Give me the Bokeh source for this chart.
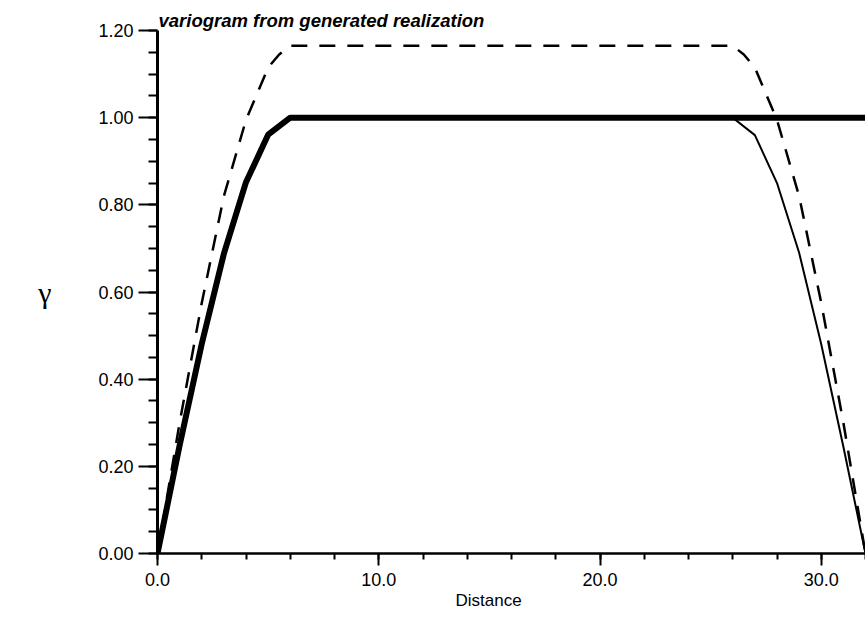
from bokeh.plotting import figure
from bokeh.models import (Range1d, SingleIntervalTicker, NumeralTickFormatter, Title)
from bokeh.embed import file_html
from bokeh.resources import INLINE

# --- data ---
model_x = [0, 1, 2, 3, 4, 5, 6, 32]
model_y = [0.0, 0.248, 0.481, 0.688, 0.852, 0.961, 1.0, 1.0]

real_x = [0, 1, 2, 3, 4, 5, 6, 26, 27, 28, 29, 30, 31, 32]
real_y = [0.0, 0.25, 0.48, 0.69, 0.85, 0.96, 1.0, 1.0, 0.96, 0.85, 0.69, 0.48, 0.245, 0.0]

dash_x = [0, 1, 2, 3, 4, 5, 5.5, 6, 26, 26.5, 27, 28, 29, 30, 31, 32]
dash_y = [0.0, 0.30, 0.575, 0.82, 0.995, 1.115, 1.145, 1.165, 1.165, 1.145, 1.115, 0.995, 0.82, 0.575, 0.30, 0.0]

title_text = "variogram from generated realization"
x_title = "Distance"
y_title = "γ"

p = figure(width=865, height=637, output_backend="svg", toolbar_location=None,
           x_range=Range1d(0, 32), y_range=Range1d(0, 1.2001),
           min_border_left=157, min_border_right=0, min_border_top=30, min_border_bottom=84)
p.outline_line_color = None
p.xgrid.visible = False
p.ygrid.visible = False
p.background_fill_color = "white"
p.border_fill_color = "white"

p.title.text = title_text
p.title.align = "left"
p.title.offset = 1
p.title.standoff = 0
p.title.text_font = "Liberation Sans"
p.title.text_font_style = "bold italic"
p.title.text_font_size = "18.5px"
p.title.text_color = "black"

p.line(real_x, real_y, line_color="black", line_width=2)
p.line(model_x, model_y, line_color="black", line_width=6)
p.line(dash_x, dash_y, line_color="black", line_width=2.5, line_dash="16 12")

xa = p.xaxis[0]
xa.ticker = SingleIntervalTicker(interval=10, num_minor_ticks=5)
xa.formatter = NumeralTickFormatter(format="0.0")
xa.axis_line_width = 2.5
xa.major_tick_line_width = 2
xa.minor_tick_line_width = 2
xa.major_tick_out = 12
xa.major_tick_in = 0
xa.minor_tick_out = 6
xa.minor_tick_in = 0
xa.major_label_standoff = 7
xa.major_label_text_font = "Liberation Sans"
xa.major_label_text_font_size = "18px"
xa.major_label_text_color = "black"

ya = p.yaxis[0]
ya.ticker = SingleIntervalTicker(interval=0.2, num_minor_ticks=4)
ya.formatter = NumeralTickFormatter(format="0.00")
ya.axis_line_width = 3
ya.major_tick_line_width = 2
ya.minor_tick_line_width = 2
ya.major_tick_out = 19
ya.major_tick_in = 0
ya.minor_tick_out = 9
ya.minor_tick_in = 0
ya.major_label_standoff = 5
ya.major_label_text_font = "Liberation Sans"
ya.major_label_text_font_size = "18px"
ya.major_label_text_color = "black"
ya.axis_label = y_title
ya.axis_label_orientation = "horizontal"
ya.axis_label_standoff = 44
ya.axis_label_text_font = "Liberation Serif"
ya.axis_label_text_font_style = "normal"
ya.axis_label_text_font_size = "30px"
ya.axis_label_text_color = "black"

p.add_layout(Title(text=x_title, align="left", offset=298, standoff=0,
                   text_font="Liberation Sans", text_font_style="normal",
                   text_font_size="17px", text_color="black"), "below")

open("out.html", "w").write(file_html(p, INLINE))
